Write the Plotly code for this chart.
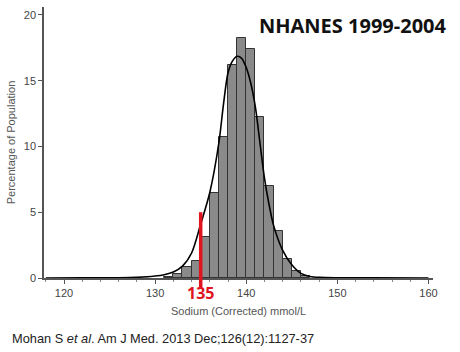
import plotly.graph_objects as go

# Histogram bins (left edge, right edge) and percentages
bin_left = [131, 132, 133, 134, 135, 136, 137, 138, 139, 140, 141, 142, 143, 144, 145, 146]
bar_pct = [0.1, 0.3, 0.8, 1.3, 3.1, 6.45, 10.7, 16.2, 18.25, 17.4, 12.25, 7.0, 3.6, 1.45, 0.55, 0.15]

# Fitted curve
curve_x = [118, 122, 126, 128, 130, 131, 132, 133, 134, 135, 136, 137, 137.5, 138, 138.5, 139,
           139.5, 140, 140.5, 141, 141.5, 142, 142.5, 143, 144, 145, 146, 147, 148, 150, 154, 160]
curve_y = [0, 0.01, 0.02, 0.05, 0.15, 0.25, 0.45, 0.9, 1.9, 4.1, 6.5, 10.3, 13.2, 15.6, 16.5, 16.85,
           16.7, 16.0, 14.8, 13.0, 10.3, 7.6, 5.6, 4.0, 2.1, 1.0, 0.35, 0.12, 0.05, 0.02, 0.01, 0]

cutoff = 135
cutoff_top = 5
cutoff_bottom = -0.78

x_ticks = [120, 130, 140, 150, 160]
y_ticks = [0, 5, 10, 15, 20]
x_range = [117.8, 160.5]
y_range = [0, 20.6]

bar_centers = [b + 0.5 for b in bin_left]

fig = go.Figure()
fig.add_trace(go.Bar(
    x=bar_centers, y=bar_pct, width=1,
    marker=dict(color="#8a8a8a", line=dict(color="#333333", width=1)),
    showlegend=False, hoverinfo="skip"))
fig.add_trace(go.Scatter(
    x=curve_x, y=curve_y, mode="lines",
    line=dict(color="black", width=1.6, shape="spline", smoothing=0.8),
    showlegend=False, hoverinfo="skip"))

def to_paper(v):
    return (v - y_range[0]) / (y_range[1] - y_range[0])

fig.add_shape(type="line", xref="x", yref="paper",
              x0=cutoff, x1=cutoff, y0=to_paper(cutoff_bottom), y1=to_paper(cutoff_top),
              line=dict(color="#e0141e", width=3.5))

fig.add_annotation(x=cutoff, xref="x", y=to_paper(cutoff_bottom), yref="paper",
                   text="<b>135</b>", showarrow=False, yanchor="middle", yshift=-5,
                   font=dict(family="Open Sans", size=16, color="#e0141e"))

fig.add_annotation(x=1.04, xref="paper", y=1.0, yref="paper", xanchor="right", yanchor="middle",
                   yshift=-18,
                   text="<b>NHANES 1999-2004</b>", showarrow=False,
                   font=dict(family="Open Sans", size=20, color="#111111"))

fig.add_annotation(x=0.5, xref="paper", y=to_paper(cutoff_bottom), yref="paper",
                   text="Sodium (Corrected) mmol/L", showarrow=False, yanchor="middle", yshift=-23,
                   font=dict(family="Liberation Sans", size=11, color="#555555"))

fig.add_annotation(x=-44/389, xref="paper", y=0, yref="paper", xanchor="left", yanchor="middle",
                   yshift=-60, xshift=10,
                   text="Mohan S <i>et al</i>. Am J Med. 2013 Dec;126(12):1127-37", showarrow=False,
                   font=dict(family="Liberation Sans", size=12.8, color="#222222"))

fig.update_xaxes(range=x_range, tickvals=x_ticks, ticks="outside", ticklen=4, tickwidth=1,
                 tickcolor="#555555", showline=True, linecolor="#555555", linewidth=1.5,
                 showgrid=False, zeroline=False,
                 minor=dict(dtick=2, ticks="outside", ticklen=2, tickcolor="#888888"),
                 tickfont=dict(family="Liberation Sans", size=11, color="#444444"))
fig.update_yaxes(range=y_range, tickvals=y_ticks, ticks="outside", ticklen=4, tickwidth=1,
                 tickcolor="#555555", showline=True, linecolor="#555555", linewidth=1.5,
                 showgrid=False, zeroline=False,
                 title=dict(text="Percentage of Population", standoff=6,
                            font=dict(family="Liberation Sans", size=11, color="#555555")),
                 tickfont=dict(family="Liberation Sans", size=11, color="#444444"))

fig.update_layout(width=460, height=352, margin=dict(l=44, r=27, t=7, b=74),
                  plot_bgcolor="white", paper_bgcolor="white", bargap=0)

fig.write_html("out.html")
